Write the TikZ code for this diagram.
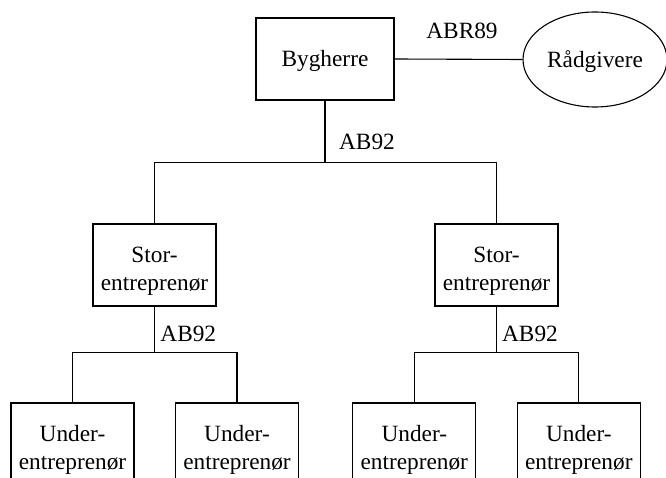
\documentclass[tikz,border=0pt]{standalone}
\usepackage{fontspec}
\setmainfont{Liberation Serif}
\usetikzlibrary{shapes.geometric}
\begin{document}
\begin{tikzpicture}[x=1pt,y=-1pt,
  every node/.style={font=\fontsize{23.3}{28.5}\selectfont, inner sep=0pt},
  party/.style={draw, line width=1.1pt, rectangle, minimum width=123pt, minimum height=82pt, align=center, text height=52pt, text depth=0.6pt},
  single/.style={text height=16pt, text depth=0.6pt},
  advisor/.style={draw, line width=1.1pt, ellipse, minimum width=144pt, minimum height=95pt},
  link/.style={line width=1.1pt}]
\useasboundingbox (0,0) rectangle (666,478);
\clip (0,0) rectangle (666,478);
\node[party, single, minimum width=138pt] (byg) at (325,59) {Bygherre};
\node[advisor, single] (raad) at (595,59.5) {Rådgivere};
\node[party] (stor1) at (154.5,265) {Stor-\\entreprenør};
\node[party] (stor2) at (496.5,265) {Stor-\\entreprenør};
\node[party] (u1) at (72.5,444) {Under-\\entreprenør};
\node[party] (u2) at (237,444) {Under-\\entreprenør};
\node[party] (u3) at (414.3,444) {Under-\\entreprenør};
\node[party] (u4) at (578.8,444) {Under-\\entreprenør};
\coordinate (j0) at (325,162.3);
\coordinate (j1) at (154.5,352.3);
\coordinate (j2) at (496.5,352.3);
\draw[link] (byg.east) -- (raad.west);
\draw[link] (byg.south) -- (j0);
\draw[link] (stor1.north) |- (j0) -| (stor2.north);
\draw[link] (stor1.south) -- (j1);
\draw[link] (u1.north) |- (j1) -| (u2.north);
\draw[link] (stor2.south) -- (j2);
\draw[link] (u3.north) |- (j2) -| (u4.north);
\node (l0) at (462,30.8) {ABR89};
\node (l1) at (367,142) {AB92};
\node (l2) at (188.3,334.2) {AB92};
\node (l3) at (530,334.2) {AB92};
\end{tikzpicture}
\end{document}
